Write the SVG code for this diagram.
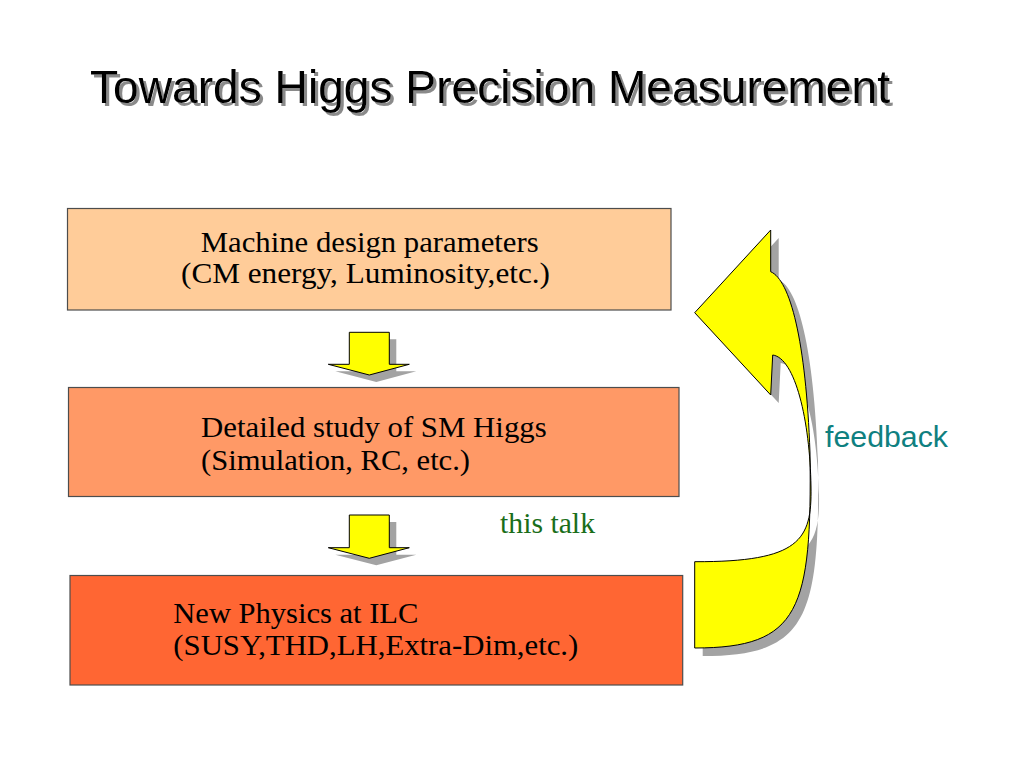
<svg xmlns="http://www.w3.org/2000/svg" width="1023" height="767" viewBox="0 0 1023 767">
<style>
.box{stroke:#4d4d4d;stroke-width:1.2}
.body{font-family:"Liberation Serif","Times New Roman",serif;font-size:29px}
.title{font-family:"Liberation Sans",Arial,sans-serif;font-size:45.5px;fill:#000}
.arrow{fill:#ffff00;stroke:#000;stroke-width:1}
.shadow{fill:#a3a3a3}
</style>
<defs>
<filter id="tshadow" x="-5%" y="-30%" width="110%" height="160%">
<feOffset in="SourceAlpha" dx="3" dy="3" result="off"/>
<feGaussianBlur in="off" stdDeviation="0.6" result="blur"/>
<feFlood flood-color="#8a8a8a"/>
<feComposite in2="blur" operator="in" result="sh"/>
<feMerge><feMergeNode in="sh"/><feMergeNode in="SourceGraphic"/></feMerge>
</filter>
<path id="dn1" d="M349.3,332.3 H389.3 V364.3 H409.3 L369.3,375 L328.3,364.3 H349.3 Z"/>
<path id="dn2" d="M349.3,515 H389.3 V547.7 H409.3 L369.3,558.3 L328.3,547.7 H349.3 Z"/>
<path id="fb" d="M694.7,312.7 L770.7,230 L770.7,271.7 C790,280 806,340 810,453 C812,610 800,648 694.7,648 L694.7,561.7 C800,562 812,540 811,487 C810,420 795,358 772.7,355 L770.7,395 Z"/>
</defs>
<rect width="1023" height="767" fill="#fff"/>
<g id="title">
<text class="title" x="90" y="103" textLength="800" lengthAdjust="spacingAndGlyphs" filter="url(#tshadow)">Towards Higgs Precision Measurement</text>
</g>
<g id="node-machine">
<rect class="box" x="67.5" y="208.5" width="603.5" height="101.5" fill="#ffcc99"/>
<text class="body" x="200.7" y="252" fill="#000" textLength="338" lengthAdjust="spacingAndGlyphs">Machine design parameters</text>
<text class="body" x="181" y="283" fill="#000" textLength="369" lengthAdjust="spacingAndGlyphs">(CM energy, Luminosity,etc.)</text>
</g>
<g id="node-study">
<rect class="box" x="68.5" y="387.5" width="610.5" height="109" fill="#ff9966"/>
<text class="body" x="201" y="436.5" fill="#000" textLength="345.7" lengthAdjust="spacingAndGlyphs">Detailed study of SM Higgs</text>
<text class="body" x="201" y="470" fill="#000" textLength="269" lengthAdjust="spacingAndGlyphs">(Simulation, RC, etc.)</text>
</g>
<g id="node-newphysics">
<rect class="box" x="70" y="575.5" width="612.7" height="109.5" fill="#ff6633"/>
<text class="body" x="173.3" y="623" fill="#000" textLength="245" lengthAdjust="spacingAndGlyphs">New Physics at ILC</text>
<text class="body" x="173.3" y="655" fill="#000" textLength="405" lengthAdjust="spacingAndGlyphs">(SUSY,THD,LH,Extra-Dim,etc.)</text>
</g>
<g id="label-thistalk">
<text class="body" x="500" y="533" fill="#1a6e1a" textLength="95" lengthAdjust="spacingAndGlyphs">this talk</text>
</g>
<g id="label-feedback">
<text x="825" y="446.5" font-family="'Liberation Sans',Arial,sans-serif" font-size="29px" fill="#0f8080" textLength="123" lengthAdjust="spacingAndGlyphs">feedback</text>
</g>
<g id="connectors">
<use href="#dn1" class="shadow" transform="translate(7,7)"/>
<use href="#dn1" class="arrow"/>
<use href="#dn2" class="shadow" transform="translate(7,7)"/>
<use href="#dn2" class="arrow"/>
<use href="#fb" class="shadow" transform="translate(8,8)"/>
<use href="#fb" class="arrow"/>
</g>
</svg>
